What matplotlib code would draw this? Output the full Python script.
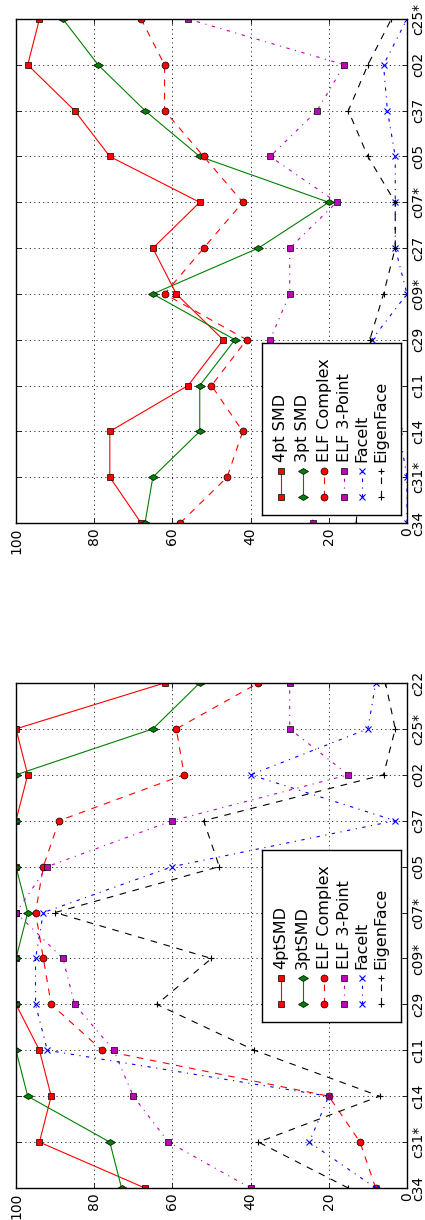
import numpy as np
import matplotlib
matplotlib.use('Agg')
import matplotlib.pyplot as plt
from matplotlib.markers import MarkerStyle
from matplotlib.transforms import Affine2D

# classic-ish dash patterns, scaled for 100 dpi
plt.rcParams.update({
    'font.family': ['DejaVu Sans'],
    'lines.dashed_pattern': [4.8, 4.8],
    'lines.dashdot_pattern': [2.4, 4.0, 0.8, 4.0],
    'lines.dotted_pattern': [0.8, 2.4],
    'lines.scale_dashes': False,
})

# Data (values in %)
cats_top = ['c34', 'c31*', 'c14', 'c11', 'c29', 'c09*', 'c27', 'c07*', 'c05', 'c37', 'c02', 'c25*']
smd4_top = [68, 76, 76, 56, 47, 59, 65, 53, 76, 85, 97, 94]
smd3_top = [67, 65, 53, 53, 44, 65, 38, 20, 53, 67, 79, 88]
elfc_top = [58, 46, 42, 50, 41, 62, 52, 42, 52, 62, 62, 68]
elf3_top = [24, 26, 28, 31, 35, 30, 30, 18, 35, 23, 16, 56]
faceit_top = [0, 0, 2, 5, 9, 0, 3, 3, 3, 5, 6, 0]
eigen_top = [13, 12, 11, 10, 9.5, 6, 3, 3, 10, 15, 10, 4]
labels_top = ['4pt SMD', '3pt SMD', 'ELF Complex', 'ELF 3-Point', 'FaceIt', 'EigenFace']

cats_bot = ['c34', 'c31*', 'c14', 'c11', 'c29', 'c09*', 'c07*', 'c05', 'c37', 'c02', 'c25*', 'c22']
smd4_bot = [67, 94, 91, 94, 100, 100, 100, 100, 100, 97, 100, 62]
smd3_bot = [73, 76, 97, 100, 100, 100, 97, 100, 100, 100, 65, 53]
elfc_bot = [8, 12, 20, 78, 91, 93, 95, 93, 89, 57, 59, 38]
elf3_bot = [40, 61, 70, 75, 85, 88, 100, 92, 60, 15, 30, 30]
faceit_bot = [8, 25, 20, 92, 95, 95, 93, 60, 3, 40, 10, 8]
eigen_bot = [15, 38, 7, 39, 64, 50, 90, 48, 52, 6, 3, 5.5]
labels_bot = ['4ptSMD', '3ptSMD', 'ELF Complex', 'ELF 3-Point', 'FaceIt', 'EigenFace']

# thin diamond lying on its side (the whole chart is turned by 90 degrees)
side_diamond = MarkerStyle('d', transform=Affine2D().rotate_deg(90))

styles = [
    dict(color='r', ls='-', marker='s', mfc='r', mec='k', mew=0.5, ms=5),
    dict(color='g', ls='-', marker=side_diamond, mfc='g', mec='k', mew=0.5, ms=5.5),
    dict(color='r', ls='--', marker='o', mfc='r', mec='k', mew=0.5, ms=5),
    dict(color='m', ls='-.', marker='s', mfc='m', mec='k', mew=0.5, ms=5),
    dict(color='b', ls='-.', marker='x', mew=0.8, ms=5),
    dict(color='k', ls='--', marker='+', mew=0.8, ms=5),
]


def draw_panel(ax, cats, series):
    idx = np.arange(len(cats))
    for vals, st in zip(series, styles):
        ax.plot(vals, idx, lw=0.8, **st)
    ax.set_xlim(100, 0)
    ax.set_ylim(0, len(cats) - 1)
    ax.set_xticks([0, 20, 40, 60, 80, 100])
    ax.set_xticklabels(['0', '20', '40', '60', '80', '100'], rotation=90, fontsize=10)
    ax.set_yticks(idx)
    ax.set_yticklabels(cats, rotation=90, va='center', fontsize=10)
    ax.tick_params(direction='in', length=3.5, width=0.6, left=True, right=True,
                   top=True, bottom=True, labelleft=False, labelright=True, pad=3)
    ax.grid(True, color='k', ls=':', lw=0.6)
    for s in ax.spines.values():
        s.set_linewidth(1.0)


def draw_legend(fig, rect, labels):
    la = fig.add_axes(rect, zorder=5)
    la.set_xlim(0, 1)
    la.set_ylim(0, 1)
    la.set_xticks([])
    la.set_yticks([])
    la.set_facecolor('white')
    for s in la.spines.values():
        s.set_linewidth(1.0)
    xs = [0.135, 0.292, 0.447, 0.594, 0.720, 0.860]
    for x, lab, st in zip(xs, labels, styles):
        la.plot([x, x], [0.103, 0.257], lw=0.8, **st)
        la.text(x, 0.305, lab, rotation=90, ha='center', va='bottom', fontsize=11.5)


fig = plt.figure(figsize=(4.25, 12.2), dpi=100)
ax_top = fig.add_axes([0.0376, 0.5713, 0.92, 0.4131])
ax_bot = fig.add_axes([0.0376, 0.0262, 0.92, 0.4140])

draw_panel(ax_top, cats_top, [smd4_top, smd3_top, elfc_top, elf3_top, faceit_top, eigen_top])
draw_panel(ax_bot, cats_bot, [smd4_bot, smd3_bot, elfc_bot, elf3_bot, faceit_bot, eigen_bot])

draw_legend(fig, [0.6172, 0.5779, 0.3252, 0.1410], labels_top)
draw_legend(fig, [0.6172, 0.1626, 0.3252, 0.1407], labels_bot)

fig.savefig('out.png', dpi=100)
